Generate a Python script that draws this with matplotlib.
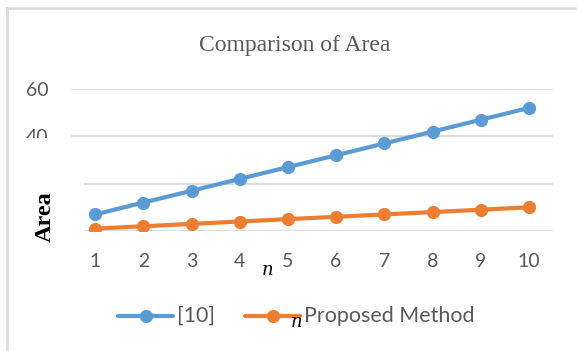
import matplotlib
matplotlib.use("Agg")
import matplotlib.pyplot as plt
from matplotlib.patches import Rectangle
from matplotlib.lines import Line2D

n = [1, 2, 3, 4, 5, 6, 7, 8, 9, 10]
ref10 = [7, 12, 17, 22, 27, 32, 37, 42, 47, 52]
proposed = [1, 2, 3, 4, 5, 6, 7, 8, 9, 10]
yticks = [0, 20, 40, 60]
ytick_labels = ['', '', '40', '60']  # 0 and 20 are hidden behind a box in the source

W, H = 577, 351
BLUE = '#5B9BD5'
ORANGE = '#ED7D31'
GREY = '#595959'


def fx(px):
    return px / W


def fy(py):
    return 1 - py / H


fig = plt.figure(figsize=(W / 100, H / 100), dpi=100)
fig.patch.set_facecolor('white')

ax = fig.add_axes([fx(71), fy(231), (553 - 71) / W, (231 - 89) / H])
ax.plot(n, ref10, color=BLUE, lw=3, marker='o', ms=8.5, solid_capstyle='round')
ax.plot(n, proposed, color=ORANGE, lw=3, marker='o', ms=8.5, solid_capstyle='round')
ax.set_xlim(0.5, 10.5)
ax.set_ylim(0, 60)
ax.set_xticks(n)
ax.set_yticks(yticks)
ax.set_xticklabels([str(v) for v in n], fontname='Lato', fontsize=14, color=GREY)
ax.set_yticklabels(ytick_labels, fontname='Lato', fontsize=14, color=GREY)
ax.tick_params(axis='x', length=0, pad=16)
ax.tick_params(axis='y', length=0, pad=16)
ax.grid(axis='y', color='#D9D9D9', lw=1.3)
ax.set_axisbelow(True)
for s in ax.spines.values():
    s.set_visible(False)

# white box that cuts the "40" label and the start of the lower gridlines
fig.patches.append(Rectangle((fx(10), fy(262)), fx(84 - 10), (262 - 138) / H,
                             transform=fig.transFigure, facecolor='white',
                             edgecolor='none', zorder=1))

# chart border (top and left only)
fig.lines.append(Line2D([fx(7), 1], [fy(8), fy(8)], transform=fig.transFigure,
                        color='#D9D9D9', lw=1.8, zorder=5))
fig.lines.append(Line2D([fx(7), fx(7)], [fy(8), 0], transform=fig.transFigure,
                        color='#D9D9D9', lw=1.8, zorder=5))

fig.text(fx(295), fy(45), 'Comparison of Area', fontname='Liberation Serif',
         fontsize=17, color=GREY, ha='center', va='center')
fig.text(fx(45), fy(217), 'Area', fontname='Liberation Serif', fontsize=17.5,
         fontweight='bold', rotation=90, ha='center', va='center', zorder=6)

# legend
for x0, col, label in [(118, BLUE, '[10]'), (245, ORANGE, 'Proposed Method')]:
    fig.lines.append(Line2D([fx(x0), fx(x0 + 55)], [fy(316), fy(316)],
                            transform=fig.transFigure, color=col, lw=3,
                            solid_capstyle='round', zorder=5))
    fig.lines.append(Line2D([fx(x0 + 27.5)], [fy(316)], transform=fig.transFigure,
                            color=col, marker='o', ms=8.5, zorder=5))
    fig.text(fx(x0 + 59), fy(316), label, fontname='Lato', fontsize=15.5,
             color=GREY, ha='left', va='center')

fig.text(fx(268), fy(270), 'n', fontname='DejaVu Serif', style='italic',
         fontsize=13, ha='center', va='center')
fig.text(fx(297), fy(322), 'n', fontname='DejaVu Serif', style='italic',
         fontsize=13, ha='center', va='center', zorder=6)

fig.savefig('out.png', dpi=100)
